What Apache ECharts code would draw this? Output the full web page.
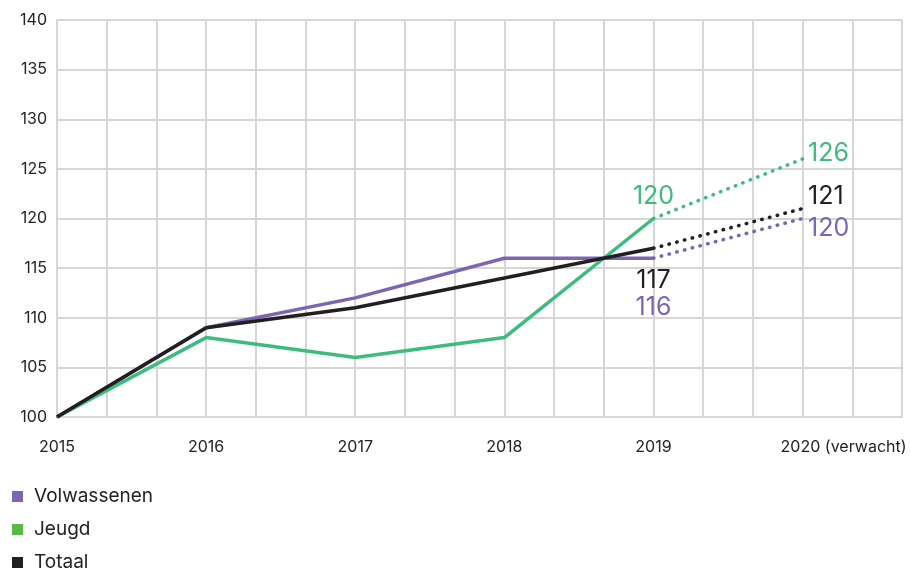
<!DOCTYPE html>
<html>
<head>
<meta charset="utf-8">
<script src="https://cdn.jsdelivr.net/npm/echarts@6/dist/echarts.min.js"></script>
<style>
  html, body { margin: 0; padding: 0; background: #fff; }
  #chart { width: 910px; height: 570px; }
</style>
</head>
<body>
<div id="chart"></div>
<script>
// jaren op de x-as, elk jaar = 3 rasterhokjes
const years = ['2015', '2016', '2017', '2018', '2019', '2020']
const volwassenen = [100, 109, 112, 116, 116]
const jeugd = [100, 108, 106, 108, 120]
const totaal = [100, 109, 111, 114, 117]
// verwachting 2020
const verwacht = [120, 126, 121] // volwassenen, jeugd, totaal

const PURPLE = '#7d66b1'
const GREEN = '#3dbd7d'
const GREEN_LEGEND = '#55bb45'
const BLACK = '#231f20'
const GRID = '#d6d6d6'
const FONT = 'Inter'

const toPoints = (arr) => arr.map((v, i) => [i * 3, v])

function mainSeries (name, arr, color, legendColor, label) {
  const pts = toPoints(arr)
  const last = pts.length - 1
  return {
    name: name,
    type: 'line',
    data: pts.map((p, i) => i === last ? { value: p, label: label } : p),
    showSymbol: true,
    symbol: 'circle',
    symbolSize: 1,
    lineStyle: { color: color, width: 3.5 },
    itemStyle: { color: legendColor },
    label: { show: false },
    emphasis: { disabled: true },
    animation: false
  }
}

function forecastSeries (name, from, to, color, label) {
  const i = years.length - 2
  return {
    name: name,
    type: 'line',
    data: [[i * 3, from], { value: [(i + 1) * 3, to], label: label }],
    showSymbol: true,
    symbol: 'circle',
    symbolSize: 1,
    lineStyle: { color: color, width: 3.5, type: [0.5, 7.5], cap: 'round' },
    itemStyle: { color: color },
    label: { show: false },
    emphasis: { disabled: true },
    animation: false
  }
}

function lbl (color, position, offset) {
  return {
    show: true,
    position: position,
    offset: offset,
    color: color,
    fontSize: 25,
    fontFamily: FONT,
    formatter: (p) => p.value[1]
  }
}

const chart = echarts.init(document.getElementById('chart'))
chart.setOption({
  backgroundColor: '#fff',
  textStyle: { fontFamily: FONT },
  grid: { left: 57, right: 8, top: 20, bottom: 153 },
  xAxis: {
    type: 'value',
    min: 0,
    max: 17,
    interval: 1,
    axisLine: { show: true, lineStyle: { color: GRID, width: 2 } },
    axisTick: { show: false },
    splitLine: { show: true, lineStyle: { color: GRID, width: 2 } },
    axisLabel: {
      margin: 22,
      color: '#222',
      fontSize: 16,
      fontFamily: FONT,
      formatter: function (v) {
        if (v % 3 !== 0) return ''
        const idx = v / 3
        if (idx === years.length - 1) return '{p|}' + years[idx] + ' (verwacht)'
        return years[idx]
      },
      rich: { p: { width: 82 } }
    }
  },
  yAxis: {
    type: 'value',
    min: 100,
    max: 140,
    interval: 5,
    axisLine: { show: true, lineStyle: { color: GRID, width: 2 } },
    axisTick: { show: false },
    splitLine: { show: true, lineStyle: { color: GRID, width: 2 } },
    axisLabel: { margin: 10, color: '#222', fontSize: 16, fontFamily: FONT }
  },
  legend: {
    orient: 'vertical',
    left: 12,
    top: 487,
    height: 120,
    padding: 0,
    itemGap: 14,
    icon: 'rect',
    itemWidth: 11,
    itemHeight: 11,
    textStyle: { fontSize: 19, lineHeight: 18, color: '#222', fontFamily: FONT, padding: [0, 0, 0, 6] },
    data: ['Volwassenen', 'Jeugd', 'Totaal']
  },
  series: [
    forecastSeries('Volwassenen verwacht', volwassenen[volwassenen.length - 1], verwacht[0], PURPLE,
      lbl(PURPLE, 'right', [0, 10])),
    forecastSeries('Jeugd verwacht', jeugd[jeugd.length - 1], verwacht[1], GREEN,
      lbl(GREEN, 'right', [0, -5])),
    forecastSeries('Totaal verwacht', totaal[totaal.length - 1], verwacht[2], BLACK,
      lbl(BLACK, 'right', [0, -12])),
    mainSeries('Volwassenen', volwassenen, PURPLE, PURPLE, lbl(PURPLE, 'bottom', [0, 31])),
    mainSeries('Jeugd', jeugd, GREEN, GREEN_LEGEND, lbl(GREEN, 'top', [0, -4])),
    mainSeries('Totaal', totaal, BLACK, BLACK, lbl(BLACK, 'bottom', [0, 14]))
  ]
})
</script>
</body>
</html>
